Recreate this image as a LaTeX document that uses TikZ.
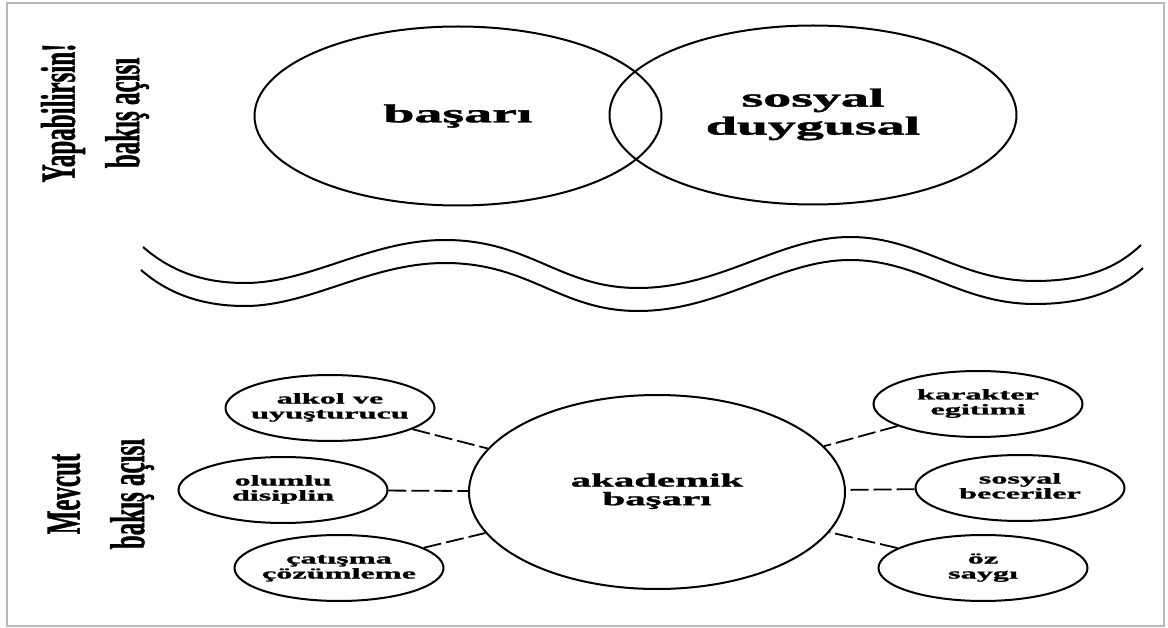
\documentclass[tikz,border=0pt]{standalone}
\usepackage{fontspec}
\setmainfont{Liberation Serif}[BoldFeatures={FakeBold=1.2}]
\usetikzlibrary{shapes.geometric}
\newcommand\htwo[2]{\makebox[0pt]{\scalebox{2.15}[1]{\begin{tabular}{@{}c@{}}#1\\#2\end{tabular}}}}
\newcommand\hone[1]{\makebox[0pt]{\scalebox{2.15}[1]{#1}}}
\newcommand\vtwo[2]{\scalebox{1}[1.95]{\begin{tabular}{@{}c@{}}#1\\#2\end{tabular}}}
\tikzset{
  oval/.style={draw=black, ellipse, line width=2pt, inner sep=0pt},
  bigoval/.style={oval, minimum width=407pt, minimum height=179pt, font=\bfseries\fontsize{26}{28}\selectfont},
  midoval/.style={oval, minimum width=376pt, minimum height=194pt, font=\bfseries\fontsize{19}{18}\selectfont},
  smalloval/.style={oval, minimum width=209pt, minimum height=66pt, font=\bfseries\fontsize{15}{15}\selectfont},
  vlabel/.style={rotate=90, inner sep=0pt, font=\bfseries\fontsize{25}{33}\selectfont},
  conn/.style={draw=black, line width=1.8pt, dash pattern=on 18pt off 5pt},
  wave/.style={draw=black, line width=2pt},
}
\begin{document}
\begin{tikzpicture}[x=1pt, y=-1pt]
\useasboundingbox (0,0) rectangle (1168,628);
\draw[gray!55, line width=2pt] (7,3) rectangle (1164,626);

% left labels
\node[vlabel] (lab1) at (94,113) {\vtwo{Yapabilirsin!}{bakış açısı}};
\node[vlabel] (lab2) at (99,494) {\vtwo{Mevcut}{bakış açısı}};

% top circles
\node[bigoval] (bas) at (458,116) {\hone{başarı}};
\node[bigoval] (sd) at (813,115) {\htwo{sosyal}{duygusal}};

% waves
\path[wave] (143,247) .. controls (175,275) and (210,283) .. (245,283)
  .. controls (310,283) and (370,240) .. (445,240)
  .. controls (530,240) and (560,288) .. (638,288)
  .. controls (720,288) and (780,237) .. (850,237)
  .. controls (920,237) and (960,281) .. (1035,281)
  .. controls (1090,281) and (1120,265) .. (1141,245);
\begin{scope}[shift={(0,23)}]
\path[wave] (141,247) .. controls (173,275) and (210,283) .. (245,283)
  .. controls (310,283) and (370,240) .. (445,240)
  .. controls (530,240) and (560,288) .. (638,288)
  .. controls (720,288) and (780,237) .. (850,237)
  .. controls (920,237) and (960,281) .. (1035,281)
  .. controls (1090,281) and (1122,265) .. (1143,245);
\end{scope}

% bottom
\node[midoval] (ak) at (657,492) {\htwo{akademik}{başarı}};
\node[smalloval] (alk) at (330,408) {\htwo{alkol ve}{uyuşturucu}};
\node[smalloval] (olu) at (283,490) {\htwo{olumlu}{disiplin}};
\node[smalloval] (cat) at (339,568) {\htwo{çatışma}{çözümleme}};
\node[smalloval] (kar) at (978,404) {\htwo{karakter}{egitimi}};
\node[smalloval] (sos) at (1020,488) {\htwo{sosyal}{beceriler}};
\node[smalloval] (oz) at (983,568) {\htwo{öz}{saygı}};

\draw[conn] (alk) -- (ak);
\draw[conn] (olu) -- (ak);
\draw[conn] (cat) -- (ak);
\draw[conn] (kar) -- (ak);
\draw[conn] (sos) -- (ak);
\draw[conn] (oz) -- (ak);
\end{tikzpicture}
\end{document}
